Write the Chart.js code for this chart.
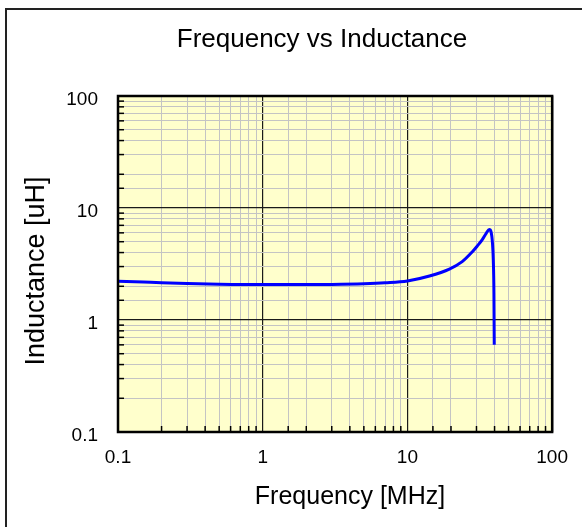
<!DOCTYPE html>
<html>
<head>
<meta charset="utf-8">
<script src="https://cdn.jsdelivr.net/npm/chart.js@4/dist/chart.umd.min.js"></script>
<style>
  html, body { margin: 0; padding: 0; background: #ffffff; }
  #wrap { position: relative; width: 582px; height: 527px; overflow: hidden; }
  #frame { position: absolute; left: 5px; top: 8px; width: 600px; height: 600px;
           border-left: 2px solid #222; border-top: 2px solid #222; box-sizing: border-box; }
  canvas { position: absolute; left: 0; top: 0; }
</style>
</head>
<body>
<div id="wrap">
  <div id="frame"></div>
  <canvas id="c" width="582" height="527"></canvas>
</div>
<script>
// Data
const frequencyMHz = [0.1, 0.15, 0.2, 0.3, 0.5, 0.7, 1, 2, 3, 5, 7, 10, 14.2, 19.5, 23.9, 28.1, 30.4, 32.9, 35.1, 36.8, 37.8, 38.7, 39.2, 39.6, 39.8];
const inductanceUH = [2.22, 2.18, 2.15, 2.12, 2.09, 2.08, 2.08, 2.07, 2.08, 2.11, 2.15, 2.23, 2.47, 2.85, 3.32, 4.07, 4.58, 5.23, 5.98, 6.43, 6.15, 4.84, 3.43, 1.74, 0.6];
const xMin = 0.1, xMax = 100;
const yMin = 0.1, yMax = 100;
const chartTitle = 'Frequency vs Inductance';
const xTitle = 'Frequency [MHz]';
const yTitle = 'Inductance [uH]';

const points = frequencyMHz.map((f, i) => ({ x: f, y: inductanceUH[i] }));

function isDecade(v) {
  const l = Math.log10(v);
  return Math.abs(l - Math.round(l)) < 1e-6;
}
function fmt(v) { return String(Number(v.toPrecision(3))); }

const gridColor = ctx => (ctx.tick && isDecade(ctx.tick.value)) ? '#1a1a1a' : '#c4c4c4';
const gridWidth = ctx => (ctx.tick && isDecade(ctx.tick.value)) ? 1.2 : 1;

const plotDecor = {
  id: 'plotDecor',
  beforeDraw(chart) {
    const a = chart.chartArea, c = chart.ctx;
    c.save();
    c.fillStyle = '#ffffcc';
    c.fillRect(a.left, a.top, a.right - a.left, a.bottom - a.top);
    c.restore();
  },
  afterDraw(chart) {
    const a = chart.chartArea, c = chart.ctx;
    c.save();
    c.strokeStyle = '#000';
    c.lineWidth = 1.5;
    const xs = chart.scales.x, ys = chart.scales.y;
    ys.ticks.forEach(t => {
      if (isDecade(t.value)) return;
      const py = ys.getPixelForValue(t.value);
      c.beginPath(); c.moveTo(a.left, py); c.lineTo(a.left + 6, py); c.stroke();
    });
    xs.ticks.forEach(t => {
      if (isDecade(t.value)) return;
      const px = xs.getPixelForValue(t.value);
      c.beginPath(); c.moveTo(px, a.bottom); c.lineTo(px, a.bottom - 6); c.stroke();
    });
    c.lineWidth = 2.5;
    c.strokeRect(a.left, a.top, a.right - a.left, a.bottom - a.top);

    // titles
    c.fillStyle = '#000';
    c.textAlign = 'center';
    c.textBaseline = 'middle';
    c.font = '26px "Liberation Sans"';
    c.fillText(chartTitle, 322, 40);
    c.font = '25px "Liberation Sans"';
    c.fillText(xTitle, 350, 497);
    c.translate(37, 271);
    c.rotate(-Math.PI / 2);
    c.font = '27px "Liberation Sans"';
    c.fillText(yTitle, 0, 0);
    c.restore();
  }
};

new Chart(document.getElementById('c'), {
  type: 'line',
  data: {
    datasets: [{
      data: points,
      borderColor: '#0000ff',
      borderWidth: 3,
      pointRadius: 0,
      fill: false,
      cubicInterpolationMode: 'monotone'
    }]
  },
  options: {
    responsive: false,
    animation: false,
    devicePixelRatio: 1,
    layout: { padding: { left: 5, right: 28, top: 96, bottom: 5 } },
    plugins: {
      legend: { display: false },
      tooltip: { enabled: false },
      title: { display: false }
    },
    scales: {
      x: {
        type: 'logarithmic',
        min: xMin, max: xMax,
        afterFit(s) { s.height = 90; },
        border: { display: false },
        grid: { color: gridColor, lineWidth: gridWidth, drawTicks: false },
        ticks: {
          autoSkip: false, maxRotation: 0, padding: 14, color: '#000',
          font: { family: 'Liberation Sans', size: 19 },
          callback: v => isDecade(v) ? fmt(v) : ''
        },
        title: { display: false }
      },
      y: {
        type: 'logarithmic',
        min: yMin, max: yMax,
        afterFit(s) { s.width = 113; },
        border: { display: false },
        grid: { color: gridColor, lineWidth: gridWidth, drawTicks: false },
        ticks: {
          autoSkip: false, padding: 20, labelOffset: 4, color: '#000',
          font: { family: 'Liberation Sans', size: 19 },
          callback: v => isDecade(v) ? fmt(v) : ''
        },
        title: { display: false }
      }
    }
  },
  plugins: [plotDecor]
});
</script>
</body>
</html>
